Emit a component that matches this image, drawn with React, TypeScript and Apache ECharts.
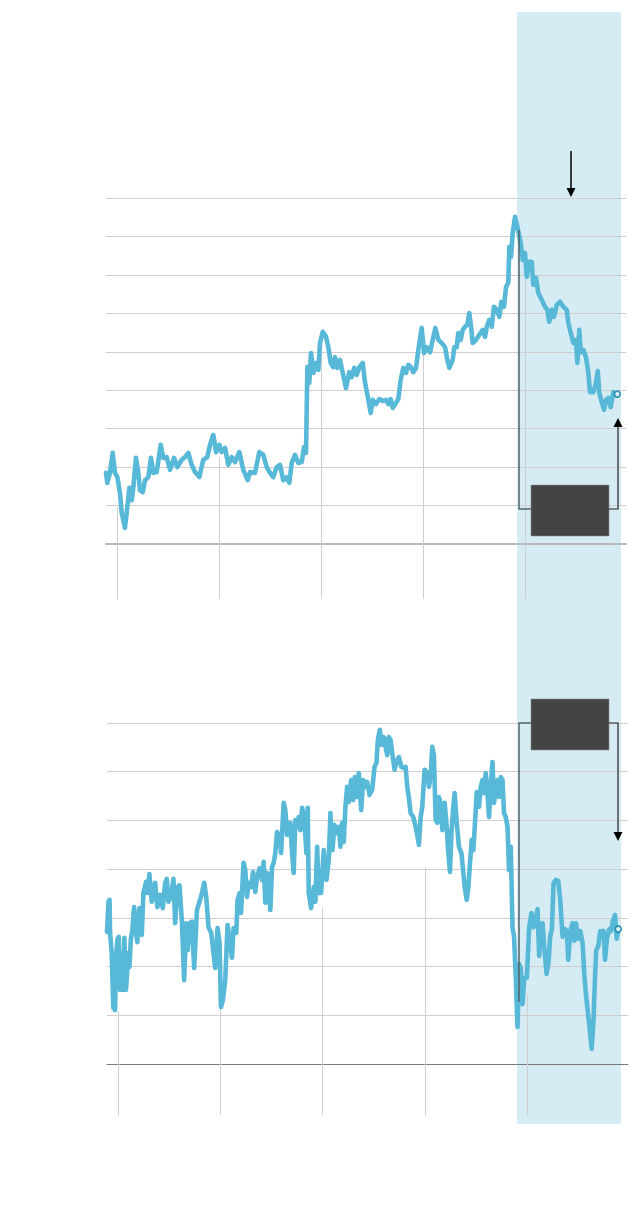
import React, { useEffect, useRef } from "react";
import * as echarts from "echarts";

// Upper panel: [decimal year, value]
const topSeries: [number, number][] = [
  [2014.892, 18.5], [2014.905, 15.9], [2014.931, 18.5], [2014.958, 23.7], [2014.98, 18.5],
  [2015.003, 17.4], [2015.029, 13.3], [2015.046, 8.1], [2015.078, 4.2], [2015.101, 9.6],
  [2015.121, 14.6], [2015.144, 11.4], [2015.16, 14.8], [2015.186, 22.4], [2015.209, 18.5],
  [2015.225, 14.0], [2015.252, 13.5], [2015.275, 16.6], [2015.307, 17.4], [2015.333, 22.4],
  [2015.356, 18.5], [2015.389, 18.7], [2015.428, 25.8], [2015.454, 22.4], [2015.487, 22.6],
  [2015.52, 19.3], [2015.559, 22.4], [2015.591, 20.0], [2015.634, 21.9], [2015.667, 22.6],
  [2015.699, 23.7], [2015.732, 20.6], [2015.765, 18.7], [2015.807, 17.4], [2015.846, 21.9],
  [2015.885, 22.6], [2015.912, 25.8], [2015.944, 28.4], [2015.971, 23.9], [2016.003, 25.8],
  [2016.026, 23.9], [2016.059, 25.0], [2016.091, 20.6], [2016.125, 22.6], [2016.157, 21.3],
  [2016.199, 23.9], [2016.238, 19.3], [2016.281, 16.6], [2016.304, 18.7], [2016.353, 18.5],
  [2016.395, 23.9], [2016.434, 23.2], [2016.468, 20.0], [2016.5, 18.5], [2016.532, 17.4],
  [2016.566, 20.0], [2016.598, 20.6], [2016.63, 16.6], [2016.664, 17.4], [2016.689, 15.9],
  [2016.713, 21.1], [2016.745, 23.2], [2016.777, 21.1], [2016.811, 21.3], [2016.833, 25.2],
  [2016.853, 23.7], [2016.866, 46.0], [2016.885, 41.9], [2016.902, 49.7], [2016.925, 44.5],
  [2016.951, 47.1], [2016.974, 45.3], [2016.99, 52.3], [2017.017, 55.2], [2017.049, 53.9],
  [2017.072, 51.2], [2017.095, 47.1], [2017.121, 46.0], [2017.137, 48.6], [2017.16, 45.8],
  [2017.186, 47.9], [2017.213, 44.5], [2017.245, 40.6], [2017.277, 44.7], [2017.301, 43.4],
  [2017.326, 45.8], [2017.35, 44.0], [2017.375, 46.0], [2017.409, 47.1], [2017.431, 42.1],
  [2017.464, 37.5], [2017.487, 34.1], [2017.507, 37.5], [2017.539, 36.4], [2017.572, 37.7],
  [2017.605, 37.2], [2017.637, 37.5], [2017.66, 36.4], [2017.683, 37.7], [2017.703, 35.4],
  [2017.735, 36.7], [2017.758, 37.7], [2017.781, 42.7], [2017.807, 45.8], [2017.833, 44.5],
  [2017.856, 46.6], [2017.882, 46.0], [2017.905, 44.7], [2017.931, 45.8], [2017.954, 50.5],
  [2017.987, 56.2], [2018.01, 49.7], [2018.036, 51.2], [2018.069, 49.9], [2018.095, 53.1],
  [2018.121, 56.2], [2018.15, 53.1], [2018.183, 52.3], [2018.216, 51.2], [2018.238, 47.9],
  [2018.258, 45.8], [2018.291, 47.9], [2018.307, 51.2], [2018.33, 51.2], [2018.346, 54.9],
  [2018.37, 53.1], [2018.389, 55.7], [2018.412, 56.5], [2018.434, 57.0], [2018.454, 60.1],
  [2018.471, 56.5], [2018.487, 52.3], [2018.52, 53.1], [2018.552, 54.4], [2018.585, 55.7],
  [2018.608, 53.9], [2018.625, 56.5], [2018.65, 58.3], [2018.674, 56.5], [2018.696, 61.7],
  [2018.723, 60.9], [2018.748, 59.1], [2018.768, 63.0], [2018.794, 61.7], [2018.814, 66.9],
  [2018.836, 67.9], [2018.846, 77.3], [2018.863, 74.7], [2018.879, 80.9], [2018.902, 85.1],
  [2018.925, 82.5], [2018.958, 78.3], [2018.978, 73.9], [2019.0, 75.7], [2019.017, 69.5],
  [2019.042, 73.4], [2019.066, 73.4], [2019.081, 67.4], [2019.108, 69.2], [2019.13, 65.3],
  [2019.164, 63.5], [2019.196, 61.7], [2019.219, 60.9], [2019.238, 57.8], [2019.262, 60.9],
  [2019.284, 59.1], [2019.311, 62.2], [2019.343, 63.0], [2019.375, 61.7], [2019.409, 60.9],
  [2019.425, 57.5], [2019.448, 54.9], [2019.474, 52.3], [2019.5, 53.1], [2019.513, 47.1],
  [2019.532, 55.7], [2019.546, 49.9], [2019.572, 50.5], [2019.598, 48.6], [2019.621, 44.5],
  [2019.637, 39.5], [2019.67, 39.5], [2019.696, 41.9], [2019.713, 45.0], [2019.728, 39.3],
  [2019.752, 36.9], [2019.775, 34.9], [2019.794, 37.5], [2019.817, 38.0], [2019.84, 35.6],
  [2019.866, 39.5], [2019.882, 38.8], [2019.905, 39.0],
];

// Lower panel: [decimal year, value]
const bottomSeries: [number, number][] = [
  [2014.892, 27.1], [2014.907, 33.3], [2014.917, 33.7], [2014.922, 26.9], [2014.938, 22.8],
  [2014.954, 11.5], [2014.971, 11.1], [2014.98, 21.4], [2014.993, 25.5], [2015.007, 26.1],
  [2015.02, 15.2], [2015.036, 21.4], [2015.046, 15.2], [2015.062, 25.9], [2015.078, 15.2],
  [2015.101, 22.8], [2015.111, 19.9], [2015.125, 25.5], [2015.14, 27.5], [2015.157, 32.2],
  [2015.176, 26.9], [2015.189, 25.0], [2015.209, 32.0], [2015.232, 26.5], [2015.248, 35.1],
  [2015.275, 37.4], [2015.287, 35.1], [2015.307, 39.0], [2015.33, 33.3], [2015.363, 37.2],
  [2015.385, 32.2], [2015.412, 34.7], [2015.438, 32.0], [2015.461, 37.2], [2015.477, 38.0],
  [2015.493, 33.3], [2015.517, 34.3], [2015.542, 38.0], [2015.559, 28.9], [2015.581, 36.3],
  [2015.601, 36.7], [2015.625, 29.2], [2015.647, 17.2], [2015.667, 28.9], [2015.683, 23.4],
  [2015.699, 28.9], [2015.723, 29.2], [2015.745, 19.7], [2015.772, 31.6], [2015.797, 33.3],
  [2015.821, 35.1], [2015.843, 37.2], [2015.863, 34.3], [2015.885, 28.1], [2015.912, 26.9],
  [2015.934, 22.8], [2015.951, 19.7], [2015.974, 27.9], [2015.993, 25.0], [2016.007, 11.7],
  [2016.026, 13.1], [2016.049, 17.2], [2016.072, 28.5], [2016.091, 25.5], [2016.115, 21.8],
  [2016.13, 27.9], [2016.157, 26.9], [2016.17, 33.7], [2016.189, 35.1], [2016.203, 31.0],
  [2016.228, 41.3], [2016.245, 39.8], [2016.262, 34.3], [2016.277, 37.2], [2016.301, 36.3],
  [2016.321, 39.4], [2016.343, 35.3], [2016.36, 38.4], [2016.385, 40.2], [2016.409, 37.8],
  [2016.425, 41.5], [2016.441, 33.1], [2016.458, 39.2], [2016.474, 36.3], [2016.49, 31.6],
  [2016.507, 40.4], [2016.523, 41.3], [2016.539, 43.3], [2016.556, 47.6], [2016.581, 46.6],
  [2016.595, 43.3], [2016.621, 53.6], [2016.637, 52.1], [2016.654, 47.0], [2016.67, 48.7],
  [2016.686, 49.5], [2016.703, 43.3], [2016.719, 39.2], [2016.735, 50.1], [2016.752, 48.7],
  [2016.768, 50.7], [2016.784, 48.0], [2016.801, 52.6], [2016.824, 50.1], [2016.843, 43.3],
  [2016.856, 52.6], [2016.866, 35.1], [2016.889, 32.0], [2016.915, 36.3], [2016.931, 33.3],
  [2016.948, 44.6], [2016.964, 35.1], [2016.987, 35.1], [2017.013, 43.9], [2017.039, 37.8],
  [2017.062, 41.9], [2017.078, 51.5], [2017.098, 43.9], [2017.118, 49.1], [2017.137, 47.4],
  [2017.16, 48.7], [2017.176, 44.6], [2017.193, 49.5], [2017.209, 45.6], [2017.225, 52.8],
  [2017.242, 56.9], [2017.258, 53.8], [2017.281, 58.3], [2017.301, 54.2], [2017.317, 58.9],
  [2017.34, 54.8], [2017.356, 59.7], [2017.379, 52.1], [2017.399, 58.3], [2017.422, 56.9],
  [2017.438, 57.9], [2017.461, 55.2], [2017.487, 56.3], [2017.51, 61.0], [2017.529, 61.8],
  [2017.542, 66.5], [2017.562, 68.6], [2017.578, 65.5], [2017.601, 67.1], [2017.618, 65.1],
  [2017.634, 63.4], [2017.65, 67.1], [2017.667, 66.5], [2017.683, 63.8], [2017.706, 60.4],
  [2017.725, 62.0], [2017.748, 63.0], [2017.772, 61.0], [2017.791, 60.8], [2017.814, 61.0],
  [2017.83, 56.9], [2017.846, 54.6], [2017.863, 51.5], [2017.889, 50.7], [2017.912, 48.7],
  [2017.928, 47.0], [2017.944, 45.0], [2017.961, 50.7], [2017.977, 52.8], [2018.0, 60.4],
  [2018.026, 59.7], [2018.042, 56.9], [2018.059, 59.3], [2018.075, 65.1], [2018.091, 63.4],
  [2018.108, 50.1], [2018.125, 49.5], [2018.14, 54.8], [2018.157, 53.6], [2018.174, 48.0],
  [2018.196, 53.6], [2018.216, 48.7], [2018.232, 43.3], [2018.248, 39.4], [2018.262, 47.4],
  [2018.281, 52.8], [2018.294, 55.6], [2018.314, 49.5], [2018.336, 44.6], [2018.36, 43.3],
  [2018.379, 39.2], [2018.392, 36.3], [2018.412, 33.7], [2018.428, 36.3], [2018.444, 41.3],
  [2018.461, 46.0], [2018.477, 43.9], [2018.49, 48.5], [2018.51, 55.8], [2018.532, 52.8],
  [2018.549, 56.9], [2018.566, 58.3], [2018.581, 55.6], [2018.598, 59.7], [2018.615, 55.6],
  [2018.63, 50.7], [2018.647, 57.3], [2018.664, 62.0], [2018.679, 53.6], [2018.696, 56.3],
  [2018.713, 58.3], [2018.728, 54.8], [2018.745, 58.9], [2018.762, 58.3], [2018.777, 51.5],
  [2018.794, 50.7], [2018.811, 48.7], [2018.826, 39.8], [2018.843, 44.6], [2018.86, 28.1],
  [2018.875, 26.1], [2018.892, 17.7], [2018.909, 7.6], [2018.925, 20.5], [2018.941, 19.7],
  [2018.958, 12.3], [2018.974, 17.7], [2019.0, 17.7], [2019.023, 28.1], [2019.046, 31.0],
  [2019.066, 28.1], [2019.088, 29.8], [2019.105, 31.8], [2019.121, 22.2], [2019.137, 28.5],
  [2019.154, 28.9], [2019.17, 24.2], [2019.193, 18.5], [2019.213, 20.9], [2019.228, 26.1],
  [2019.245, 27.7], [2019.262, 37.2], [2019.284, 37.8], [2019.307, 37.6], [2019.326, 33.9],
  [2019.35, 26.1], [2019.373, 27.7], [2019.392, 27.3], [2019.405, 21.4], [2019.425, 27.3],
  [2019.448, 28.9], [2019.464, 25.3], [2019.48, 28.9], [2019.503, 25.7], [2019.523, 27.3],
  [2019.546, 24.8], [2019.562, 18.5], [2019.578, 14.4], [2019.595, 11.1], [2019.611, 8.0],
  [2019.634, 3.1], [2019.654, 9.6], [2019.667, 17.7], [2019.679, 23.4], [2019.699, 24.2],
  [2019.719, 27.3], [2019.735, 26.5], [2019.752, 27.3], [2019.765, 21.4], [2019.784, 25.7],
  [2019.807, 27.7], [2019.824, 27.3], [2019.843, 29.4], [2019.863, 30.6], [2019.879, 25.7],
  [2019.895, 27.7],
];

// Year marks (vertical drop lines) and where they start on the line
const yearTicks = [2015, 2016, 2017, 2018, 2019];
const topTickTops = [9.6, 22.6, 55.7, 51.2, 73.9];
const bottomTickTops = [10.9, 11.3, 32.2, 40.4, 14.4];

// Axis extents
const xRange = [2014.892, 2019.99];
const topYMax = 90;
const bottomYMax = 70;
const yStep = 10;

// Highlighted period
const bandRange = [2018.922, 2019.941];

const LINE = "#58b8d7";
const GRID = "#cfcfcf";

function dropLines(tops: number[], gridIdx: number, ext: number) {
  return {
    type: "custom",
    xAxisIndex: gridIdx,
    yAxisIndex: gridIdx,
    clip: false,
    z: 1,
    silent: true,
    data: yearTicks.map((y, i) => [y, tops[i]]),
    renderItem: (_p: any, api: any) => {
      const a = api.coord([api.value(0), api.value(1)]);
      const b = api.coord([api.value(0), 0]);
      return {
        type: "line",
        shape: { x1: Math.round(a[0]) + 0.5, y1: a[1], x2: Math.round(a[0]) + 0.5, y2: b[1] + ext },
        style: { stroke: GRID, lineWidth: 1 },
      };
    },
  };
}

export default function App() {
  const ref = useRef<HTMLDivElement>(null);
  useEffect(() => {
    document.body.style.margin = "0";
    const chart = echarts.init(ref.current!, null, { renderer: "svg" });
    const xAxisBase = (color: string, width: number, gridIndex: number) => ({
      type: "value",
      gridIndex,
      min: xRange[0],
      max: xRange[1],
      axisLabel: { show: false },
      axisTick: { show: false },
      splitLine: { show: false },
      axisLine: { show: true, lineStyle: { color, width } },
    });
    const yAxisBase = (max: number, gridIndex: number) => ({
      type: "value",
      gridIndex,
      min: 0,
      max,
      interval: yStep,
      axisLabel: { show: false },
      axisTick: { show: false },
      axisLine: { show: false },
      splitLine: { show: true, lineStyle: { color: GRID, width: 1 } },
    });
    const lineSeries = (data: [number, number][], idx: number) => ({
      type: "line",
      xAxisIndex: idx,
      yAxisIndex: idx,
      data,
      showSymbol: false,
      symbol: "none",
      z: 3,
      lineStyle: { color: LINE, width: 4.6, join: "round", cap: "round" },
    });
    const endMarker = (data: [number, number][], idx: number) => ({
      type: "scatter",
      xAxisIndex: idx,
      yAxisIndex: idx,
      data: [data[data.length - 1]],
      symbolSize: 6,
      z: 5,
      itemStyle: { color: "#ffffff", borderColor: "#0a7fa3", borderWidth: 1.8 },
    });
    chart.setOption({
      animation: false,
      grid: [
        { left: 106, top: 198, width: 520, height: 346 },
        { left: 107, top: 723, width: 521, height: 341 },
      ],
      xAxis: [xAxisBase("#b8b8b8", 2, 0), xAxisBase("#7a7a7a", 1, 1)],
      yAxis: [yAxisBase(topYMax, 0), yAxisBase(bottomYMax, 1)],
      series: [
        dropLines(topTickTops, 0, 55),
        dropLines(bottomTickTops, 1, 51),
        lineSeries(topSeries, 0),
        lineSeries(bottomSeries, 1),
        endMarker(topSeries, 0),
        endMarker(bottomSeries, 1),
      ],
    });
    const bx0 = chart.convertToPixel({ xAxisIndex: 0 }, bandRange[0]) as number;
    const bx1 = chart.convertToPixel({ xAxisIndex: 0 }, bandRange[1]) as number;
    chart.setOption({
      graphic: {
        elements: [
          {
            type: "rect",
            z: -100,
            silent: true,
            shape: { x: bx0, y: 12, width: bx1 - bx0, height: 1112 },
            style: { fill: "#d6ecf5" },
          },
          // upper panel annotations
          { type: "line", z: 10, shape: { x1: 571, y1: 151, x2: 571, y2: 189 }, style: { stroke: "#000", lineWidth: 1.5 } },
          { type: "polygon", z: 10, shape: { points: [[566.5, 188], [575.5, 188], [571, 197]] }, style: { fill: "#000" } },
          { type: "polyline", z: 10, shape: { points: [[519, 230], [519, 509], [531, 509]] }, style: { stroke: "#52636a", lineWidth: 1.5, fill: "none" } },
          { type: "rect", z: 10, shape: { x: 531, y: 485, width: 78, height: 51 }, style: { fill: "#444444", stroke: "#8a8a8a", lineWidth: 0.6 } },
          { type: "polyline", z: 10, shape: { points: [[609, 509], [618, 509], [618, 427]] }, style: { stroke: "#222", lineWidth: 1.2, fill: "none" } },
          { type: "polygon", z: 10, shape: { points: [[613.5, 427], [622.5, 427], [618, 418]] }, style: { fill: "#000" } },
          // lower panel annotations
          { type: "polyline", z: 10, shape: { points: [[519, 1002], [519, 723], [531, 723]] }, style: { stroke: "#52636a", lineWidth: 1.5, fill: "none" } },
          { type: "rect", z: 10, shape: { x: 531, y: 699, width: 78, height: 51 }, style: { fill: "#444444", stroke: "#8a8a8a", lineWidth: 0.6 } },
          { type: "polyline", z: 10, shape: { points: [[609, 723], [618, 723], [618, 832]] }, style: { stroke: "#222", lineWidth: 1.2, fill: "none" } },
          { type: "polygon", z: 10, shape: { points: [[613.5, 832], [622.5, 832], [618, 841]] }, style: { fill: "#000" } },
        ],
      },
    });
    return () => chart.dispose();
  }, []);
  return <div ref={ref} style={{ width: 640, height: 1218 }} />;
}
